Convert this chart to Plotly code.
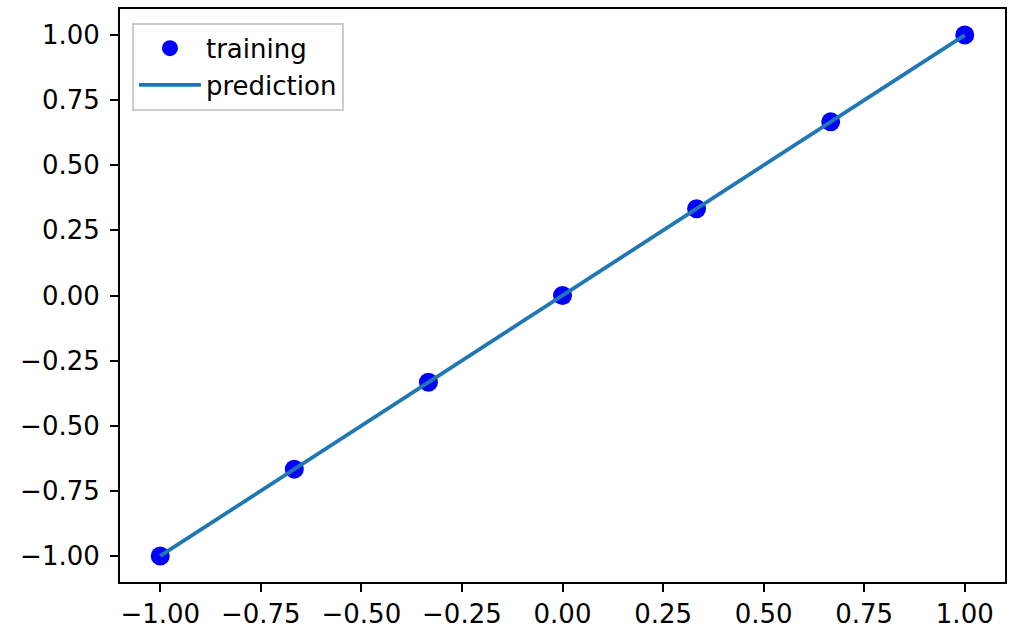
import plotly.graph_objects as go

train_x = [-1.0, -0.6667, -0.3333, 0.0, 0.3333, 0.6667, 1.0]
train_y = [-1.0, -0.6667, -0.3333, 0.0, 0.3333, 0.6667, 1.0]
pred_x = [-1.0, -0.6667, -0.3333, 0.0, 0.3333, 0.6667, 1.0]
pred_y = [-1.0, -0.6667, -0.3333, 0.0, 0.3333, 0.6667, 1.0]
tick_vals = [-1.0, -0.75, -0.5, -0.25, 0.0, 0.25, 0.5, 0.75, 1.0]

fig = go.Figure()
fig.add_trace(go.Scatter(x=train_x, y=train_y, mode="markers", name="training",
                         marker=dict(color="#0000ff", size=19, line=dict(width=0))))
fig.add_trace(go.Scatter(x=pred_x, y=pred_y, mode="lines", name="prediction",
                         line=dict(color="#1f77b4", width=3.8)))

axis_common = dict(
    showgrid=False, zeroline=False, showline=True, mirror=True,
    linecolor="black", linewidth=2, ticks="outside", ticklen=8, tickwidth=2,
    tickcolor="black", tickvals=tick_vals, tickformat=".2f",
    tickfont=dict(family="DejaVu Sans", size=26, color="black"),
    range=[-1.1, 1.1],
)
fig.update_xaxes(**axis_common)
fig.update_yaxes(**axis_common, ticklabelstandoff=5)

fig.update_layout(
    width=1010, height=632,
    margin=dict(l=120, r=3, t=9, b=45),
    plot_bgcolor="white", paper_bgcolor="white",
    font=dict(family="DejaVu Sans", size=26, color="black"),
    legend=dict(x=0.0135, y=0.976, xanchor="left", yanchor="top",
                bgcolor="white", bordercolor="#cccccc", borderwidth=2,
                font=dict(family="DejaVu Sans", size=26, color="black"),
                itemwidth=62),
    showlegend=True,
)

fig.write_html("out.html")
